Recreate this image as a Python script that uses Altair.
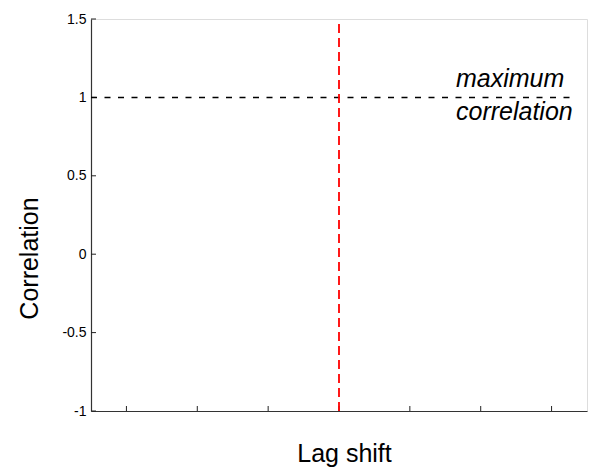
import altair as alt
import pandas as pd

# Values shown on the chart
lag_ticks = [-3, -2, -1, 0, 1, 2, 3]
corr_ticks = [-1, -0.5, 0, 0.5, 1, 1.5]
max_corr = 1.0
lag_at_max = 0
note_lines = ["maximum", "correlation"]

FONT = "Liberation Sans, Arial, Helvetica, sans-serif"
W, H = 496, 392
TITLE_SIZE = 25
NOTE_SIZE = 25

x_scale = alt.Scale(domain=[-3.5, 3.5], nice=False, zero=False)
y_scale = alt.Scale(domain=[-1, 1.5], nice=False, zero=False)

lag_df = pd.DataFrame({"lag": lag_ticks})
corr_df = pd.DataFrame({"corr": corr_ticks})

# Inward-pointing y ticks, carrying the left axis
y_ticks = alt.Chart(corr_df).mark_rule(color="#222222", strokeWidth=1).encode(
    y=alt.Y(
        "corr:Q",
        scale=y_scale,
        axis=alt.Axis(
            values=corr_ticks,
            labelExpr="'' + datum.value",
            ticks=False,
            grid=False,
            labelPadding=5,
            labelFontSize=14,
            labelColor="#000000",
            domainColor="#333333",
            domainWidth=1.2,
            title="Correlation",
            titleFontSize=TITLE_SIZE,
            titleFontWeight="normal",
            titleColor="#000000",
            titleAngle=270,
            titleAlign="center",
            titleBaseline="alphabetic",
            titleX=-54,
            titleY=239,
        ),
    ),
    x=alt.value(0),
    x2=alt.value(5),
)

# Inward-pointing x ticks, carrying the bottom axis
x_ticks = alt.Chart(lag_df).mark_rule(color="#222222", strokeWidth=1).encode(
    x=alt.X(
        "lag:Q",
        scale=x_scale,
        axis=alt.Axis(
            values=lag_ticks,
            labels=False,
            ticks=False,
            grid=False,
            domainColor="#333333",
            domainWidth=1.2,
            title="Lag shift",
            titleFontSize=TITLE_SIZE,
            titleFontWeight="normal",
            titleColor="#000000",
            titleAlign="center",
            titleBaseline="alphabetic",
            titleX=253,
            titleY=50,
        ),
    ),
    y=alt.value(H),
    y2=alt.value(H - 5),
)

# Dashed reference line at the maximum correlation
max_line = alt.Chart(pd.DataFrame({"corr": [max_corr]})).mark_rule(
    color="#000000", strokeWidth=1.5, strokeDash=[6, 7.5]
).encode(
    y=alt.Y("corr:Q", scale=y_scale),
    x=alt.value(0),
    x2=alt.value(481),
)

# Red dashed line marking the lag of maximum correlation
lag_line = alt.Chart(pd.DataFrame({"lag": [lag_at_max]})).mark_rule(
    color="#ff0000", strokeWidth=1.8, strokeDash=[9, 5]
).encode(
    x=alt.X("lag:Q", scale=x_scale),
    y=alt.value(H),
    y2=alt.value(0),
)

note_top = alt.Chart(pd.DataFrame({"corr": [max_corr]})).mark_text(
    text=note_lines[0], font=FONT, fontSize=NOTE_SIZE, fontStyle="italic",
    align="left", baseline="alphabetic", dy=-10, color="#000000",
).encode(x=alt.value(365), y=alt.Y("corr:Q", scale=y_scale))

note_bottom = alt.Chart(pd.DataFrame({"corr": [max_corr]})).mark_text(
    text=note_lines[1], font=FONT, fontSize=NOTE_SIZE, fontStyle="italic",
    align="left", baseline="alphabetic", dy=23, color="#000000",
).encode(x=alt.value(365), y=alt.Y("corr:Q", scale=y_scale))

chart = (
    alt.layer(y_ticks, x_ticks, max_line, lag_line, note_top, note_bottom)
    .properties(
        width=W,
        height=H,
        autosize=alt.AutoSizeParams(type="none"),
        padding={"left": 91, "top": 19, "right": 17, "bottom": 64},
        background="#ffffff",
    )
    .configure_view(stroke=None)
    .configure(font=FONT)
)

chart.save("out.html", embed_options={"renderer": "svg", "actions": False})
